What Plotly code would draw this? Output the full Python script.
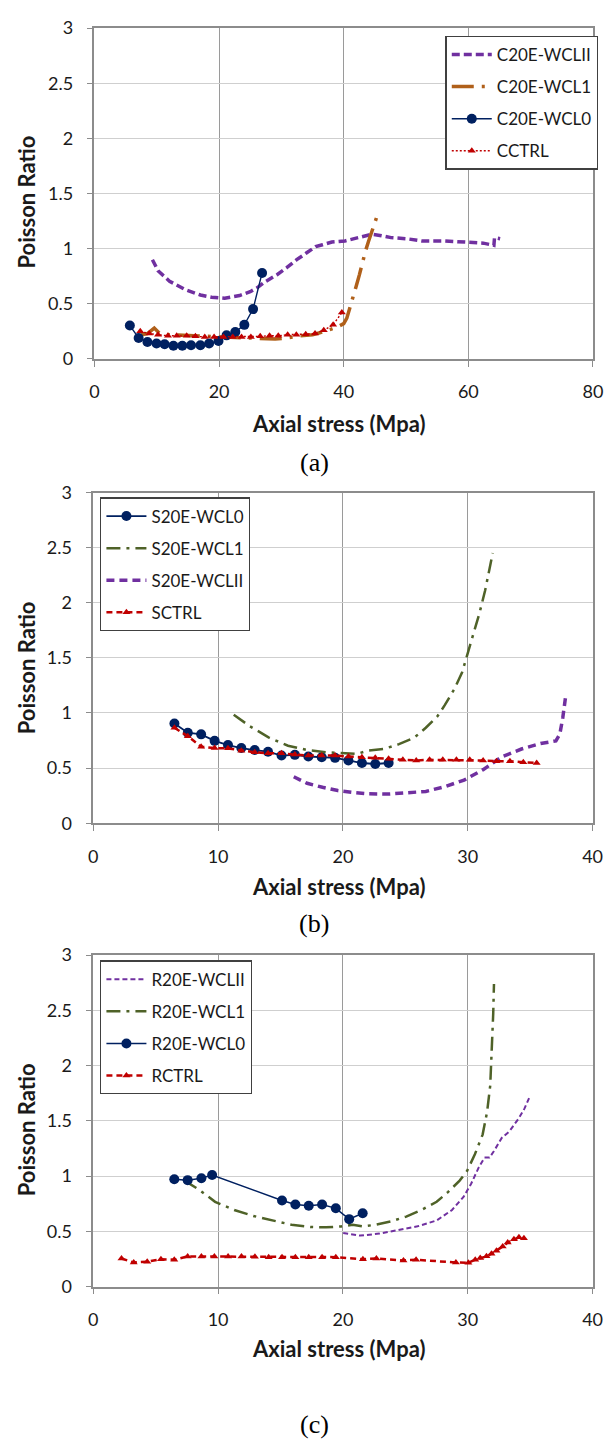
import plotly.graph_objects as go

# ---------------- (a) C-series ----------------
c_wclii_x = [9.3, 10.2, 12.05, 14.5, 17.0, 18.8, 20.9, 23.3, 25.0, 26.1, 27.4, 29.3, 30.9, 32.4, 34.0, 35.5, 36.6, 38.1, 40.2, 42.1, 43.4, 44.5, 45.8, 47.6, 50.1, 52.5, 56.2, 59.3, 62.4, 64.1, 64.2, 65.1]
c_wclii_y = [0.90, 0.80, 0.705, 0.63, 0.58, 0.56, 0.55, 0.575, 0.61, 0.645, 0.70, 0.764, 0.83, 0.898, 0.96, 1.018, 1.035, 1.06, 1.07, 1.10, 1.12, 1.13, 1.12, 1.10, 1.09, 1.07, 1.07, 1.06, 1.05, 1.03, 1.10, 1.09]

c_wcl1_x = [7.5, 8.5, 9.6, 10.5, 12.0, 14.0, 16.0, 18.0, 20.0, 22.0, 24.0, 26.0, 27.0, 28.0, 29.0, 30.0, 31.0, 32.0, 33.0, 34.0, 35.0, 36.0, 37.0, 38.0, 39.0, 40.0, 40.5, 41.0, 41.5, 42.0, 42.5, 43.0, 43.5, 44.0, 44.5, 45.0, 45.5]
c_wcl1_y = [0.22, 0.23, 0.28, 0.23, 0.22, 0.215, 0.21, 0.205, 0.20, 0.195, 0.19, 0.185, 0.18, 0.18, 0.18, 0.185, 0.19, 0.20, 0.21, 0.215, 0.22, 0.235, 0.25, 0.27, 0.29, 0.32, 0.37, 0.46, 0.56, 0.66, 0.76, 0.88, 0.98, 1.07, 1.15, 1.23, 1.32]

c_wcl0_x = [5.68, 7.09, 8.5, 9.96, 11.26, 12.67, 14.1, 15.5, 17.0, 18.4, 19.9, 21.2, 22.6, 24.05, 25.45, 26.9]
c_wcl0_y = [0.303, 0.19, 0.154, 0.14, 0.134, 0.119, 0.119, 0.125, 0.125, 0.14, 0.163, 0.214, 0.244, 0.309, 0.452, 0.78]

cctrl_x = [7.35, 8.8, 10.2, 11.8, 13.2, 14.8, 16.2, 17.7, 19.2, 20.7, 22.2, 23.6, 25.1, 26.6, 28.1, 29.5, 31.0, 32.4, 33.9, 35.4, 36.8, 38.3, 39.7]
cctrl_y = [0.25, 0.23, 0.22, 0.21, 0.21, 0.21, 0.205, 0.20, 0.20, 0.20, 0.20, 0.20, 0.20, 0.205, 0.21, 0.21, 0.22, 0.22, 0.225, 0.23, 0.26, 0.31, 0.42]

# ---------------- (b) S-series ----------------
s_wcl0_x = [6.5, 7.57, 8.64, 9.72, 10.79, 11.86, 12.93, 14.0, 15.08, 16.15, 17.23, 18.3, 19.37, 20.44, 21.52, 22.59, 23.66]
s_wcl0_y = [0.904, 0.821, 0.806, 0.747, 0.709, 0.682, 0.664, 0.649, 0.614, 0.62, 0.605, 0.599, 0.593, 0.569, 0.546, 0.537, 0.546]

s_wcl1_x = [11.25, 12.54, 14.07, 15.6, 17.13, 18.67, 20.2, 21.1, 22.0, 23.26, 24.49, 25.72, 26.64, 27.56, 28.17, 28.94, 29.55, 30.0, 30.47, 30.93, 31.39, 31.69, 32.0]
s_wcl1_y = [0.984, 0.88, 0.777, 0.703, 0.664, 0.643, 0.634, 0.628, 0.658, 0.673, 0.717, 0.777, 0.866, 0.969, 1.073, 1.221, 1.37, 1.548, 1.725, 1.903, 2.111, 2.289, 2.452]

s_wclii_x = [16.06, 17.13, 18.36, 19.59, 20.81, 22.04, 23.57, 25.1, 26.64, 28.17, 29.7, 31.23, 32.77, 34.3, 35.83, 37.06, 37.37, 37.61, 37.82]
s_wclii_y = [0.421, 0.362, 0.326, 0.296, 0.279, 0.267, 0.264, 0.273, 0.288, 0.332, 0.391, 0.486, 0.605, 0.673, 0.723, 0.747, 0.806, 0.955, 1.133]

sctrl_x = [6.5, 7.57, 8.64, 9.72, 10.79, 11.86, 12.93, 14.0, 15.08, 16.15, 17.23, 18.3, 19.37, 20.44, 21.52, 22.59, 23.66, 24.8, 25.87, 26.94, 28.0, 29.09, 30.16, 31.23, 32.3, 33.38, 34.45, 35.52]
sctrl_y = [0.866, 0.79, 0.694, 0.682, 0.679, 0.658, 0.643, 0.634, 0.634, 0.623, 0.614, 0.614, 0.614, 0.605, 0.599, 0.593, 0.584, 0.575, 0.569, 0.575, 0.575, 0.575, 0.575, 0.569, 0.563, 0.563, 0.554, 0.546]

# ---------------- (c) R-series ----------------
r_wclii_x = [20.02, 21.39, 22.92, 24.45, 25.98, 27.51, 28.74, 29.66, 30.27, 30.88, 31.34, 31.74, 32.1, 32.72, 33.33, 34.09, 34.55, 35.01]
r_wclii_y = [0.486, 0.462, 0.48, 0.51, 0.546, 0.599, 0.694, 0.812, 0.931, 1.079, 1.168, 1.168, 1.227, 1.346, 1.405, 1.524, 1.613, 1.731]

r_wcl1_x = [7.31, 8.54, 9.76, 11.29, 12.82, 14.35, 15.88, 17.41, 18.64, 19.86, 20.78, 21.55, 22.62, 23.84, 25.07, 26.29, 27.51, 28.43, 29.35, 29.96, 30.57, 31.19, 31.55, 31.8, 31.95, 32.04, 32.1]
r_wcl1_y = [0.96, 0.872, 0.768, 0.694, 0.64, 0.599, 0.56, 0.54, 0.537, 0.545, 0.56, 0.545, 0.56, 0.59, 0.634, 0.694, 0.768, 0.857, 0.96, 1.05, 1.198, 1.376, 1.583, 1.82, 2.176, 2.473, 2.739]

r_wcl0_x = [6.49, 7.56, 8.66, 9.52, 15.12, 16.19, 17.26, 18.33, 19.43, 20.5, 21.58]
r_wcl0_y = [0.972, 0.964, 0.981, 1.011, 0.78, 0.744, 0.732, 0.744, 0.709, 0.611, 0.664]

rctrl_x = [2.26, 3.24, 4.32, 5.42, 6.49, 7.56, 8.66, 9.7, 10.8, 11.87, 12.95, 14.05, 15.12, 16.19, 17.26, 18.33, 19.43, 21.6, 22.68, 24.85, 25.86, 29.05, 30.05, 30.6, 31.0, 31.5, 31.9, 32.3, 32.8, 33.2, 33.7, 34.1, 34.5]
rctrl_y = [0.255, 0.219, 0.225, 0.249, 0.243, 0.273, 0.273, 0.273, 0.273, 0.273, 0.27, 0.267, 0.267, 0.267, 0.267, 0.267, 0.267, 0.249, 0.255, 0.237, 0.243, 0.219, 0.216, 0.244, 0.259, 0.274, 0.298, 0.324, 0.363, 0.399, 0.429, 0.446, 0.438]

y_tickvals = [0, 0.5, 1, 1.5, 2, 2.5, 3]
y_ticktext = ["0", "0.5", "1", "1.5", "2", "2.5", "3"]
x_ticks_a = [0, 20, 40, 60, 80]
x_ticks_bc = [0, 10, 20, 30, 40]

x_title = "Axial stress (Mpa)"
y_title = "Poisson Ratio"
captions = ["(a)", "(b)", "(c)"]

W, H = 614, 1449
PURPLE = "#7030A0"
BROWN = "#B0601A"
NAVY = "#002060"
RED = "#C00000"
GREEN = "#4F6228"
FONT = "Lato"


def px_x(p):
    return p / W


def px_y(p):
    return 1 - p / H


fig = go.Figure()


def add(x, y, name, ax, legend, color, width, dash, marker=None, msize=None):
    mode = "lines+markers" if marker else "lines"
    tr = go.Scatter(
        x=x, y=y, name=name, mode=mode,
        xaxis="x" + ax, yaxis="y" + ax, legend=legend, legendgroup=name,
        line=dict(color=color, width=width, dash=dash),
    )
    if marker:
        tr.marker = dict(symbol=marker, size=msize, color=color, line=dict(width=0))
    fig.add_trace(tr)


# (a)
add(c_wclii_x, c_wclii_y, "C20E-WCLII", "", "legend", PURPLE, 3.5, "8px,4px")
add(c_wcl1_x, c_wcl1_y, "C20E-WCL1", "", "legend", BROWN, 3.5, "22px,8px,3px,8px")
add(c_wcl0_x, c_wcl0_y, "C20E-WCL0", "", "legend", NAVY, 1.4, "solid", "circle", 10)
add(cctrl_x, cctrl_y, "CCTRL", "", "legend", RED, 1.4, "2px,2px", "triangle-up", 7)

# (b)
add(s_wcl0_x, s_wcl0_y, "S20E-WCL0", "2", "legend2", NAVY, 1.8, "solid", "circle", 10)
add(s_wcl1_x, s_wcl1_y, "S20E-WCL1", "2", "legend2", GREEN, 2.5, "14px,6px,3px,6px")
add(s_wclii_x, s_wclii_y, "S20E-WCLII", "2", "legend2", PURPLE, 3.5, "8px,5px")
add(sctrl_x, sctrl_y, "SCTRL", "2", "legend2", RED, 2.5, "6px,4px", "triangle-up", 7)

# (c)
add(r_wclii_x, r_wclii_y, "R20E-WCLII", "3", "legend3", PURPLE, 2, "5px,3px")
add(r_wcl1_x, r_wcl1_y, "R20E-WCL1", "3", "legend3", GREEN, 2.5, "14px,6px,3px,6px")
add(r_wcl0_x, r_wcl0_y, "R20E-WCL0", "3", "legend3", NAVY, 1.5, "solid", "circle", 10)
add(rctrl_x, rctrl_y, "RCTRL", "3", "legend3", RED, 2.5, "6px,4px", "triangle-up", 7)

# panel geometry in pixels: (left, right, top, bottom)
panels = [
    (91.7, 602.7, 16.3, 352.3, [0, 80], x_ticks_a),
    (90.5, 602.3, 488.0, 823.7, [0, 40], x_ticks_bc),
    (90.5, 602.3, 957.7, 1294.3, [0, 40], x_ticks_bc),
]

tick_font = dict(family=FONT, size=18, color="#1a1a1a")
layout = dict(
    width=W, height=H,
    margin=dict(l=0, r=0, t=0, b=0),
    paper_bgcolor="white", plot_bgcolor="white",
    showlegend=True,
)

for i, (l, r, t, b, xr, xt) in enumerate(panels):
    sfx = "" if i == 0 else str(i + 1)
    layout["xaxis" + sfx] = dict(
        domain=[px_x(l), px_x(r)], range=xr, anchor="y" + sfx,
        tickvals=xt, ticks="outside", ticklen=6, tickcolor="#8c8c8c",
        showgrid=True, gridcolor="#9a9a9a", gridwidth=1,
        showline=True, linecolor="#8c8c8c", linewidth=1.5, mirror=True,
        zeroline=False, tickfont=tick_font, ticklabelstandoff=10,
    )
    layout["yaxis" + sfx] = dict(
        domain=[px_y(b), px_y(t)], range=[0, 3], anchor="x" + sfx,
        tickvals=y_tickvals, ticktext=y_ticktext, ticks="outside", ticklen=6,
        tickcolor="#8c8c8c", showgrid=True, gridcolor="#cfcfcf", gridwidth=1,
        showline=True, linecolor="#8c8c8c", linewidth=1.5, mirror=True,
        zeroline=False, tickfont=tick_font, ticklabelstandoff=10,
    )

legend_common = dict(
    xanchor="left", yanchor="top", bgcolor="white",
    bordercolor="#404040", borderwidth=1.3,
    font=dict(family=FONT, size=17, color="#1a1a1a"),
    itemwidth=40, traceorder="grouped", tracegroupgap=7,
)
layout["legend"] = dict(x=px_x(451.5), y=px_y(24), **legend_common)
layout["legend2"] = dict(x=px_x(97.5), y=px_y(492.7), **legend_common)
layout["legend3"] = dict(x=px_x(97.5), y=px_y(963), **legend_common)

fig.update_layout(**layout)

# axis titles and panel captions
xt_pos = [(342, 418), (342, 888), (342, 1357)]
yt_pos = [(22, 193), (22, 666), (22, 1135)]
cap_pos = [(317, 457), (317, 926), (317, 1434)]
for i in range(3):
    fig.add_annotation(
        text=x_title, xref="paper", yref="paper",
        x=px_x(xt_pos[i][0]), y=px_y(xt_pos[i][1]),
        xanchor="center", yanchor="middle", showarrow=False,
        font=dict(family=FONT, size=22, weight=700, color="#1a1a1a"),
    )
    fig.add_annotation(
        text=y_title, xref="paper", yref="paper", textangle=-90,
        x=px_x(yt_pos[i][0]), y=px_y(yt_pos[i][1]),
        xanchor="center", yanchor="middle", showarrow=False,
        font=dict(family=FONT, size=22, weight=700, color="#1a1a1a"),
    )
    fig.add_annotation(
        text=captions[i], xref="paper", yref="paper",
        x=px_x(cap_pos[i][0]), y=px_y(cap_pos[i][1]),
        xanchor="center", yanchor="middle", showarrow=False,
        font=dict(family="Liberation Serif", size=26, color="#000000"),
    )

fig.write_html("out.html", config={"displayModeBar": False})
